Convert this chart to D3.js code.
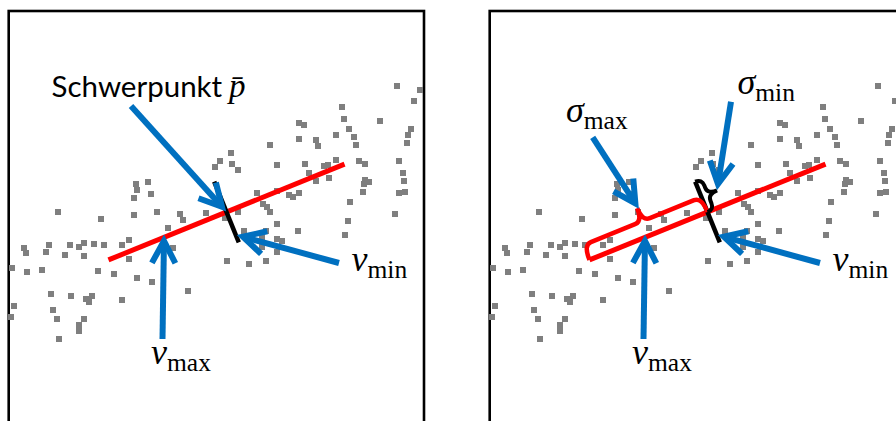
<!DOCTYPE html>
<html>
<head>
<meta charset="utf-8">
<script src="https://cdn.jsdelivr.net/npm/d3@7"></script>
<style>
  body { margin: 0; background: #fff; }
</style>
</head>
<body>
<svg id="chart" width="896" height="421"></svg>
<script>
// scatter points (pixel-like units of the left panel)
const pointX = [397, 420, 414, 342, 344, 380, 299, 304, 349, 411, 408, 336, 354, 299, 316, 407, 270, 318, 356, 231,
  220, 232, 215, 238, 277, 305, 324, 328, 336, 359, 365, 399, 403, 309, 329, 316, 365, 369, 364, 404,
  399, 405, 363, 350, 136, 148, 137, 151, 134, 257, 277, 289, 293, 299, 263, 267, 58, 101, 134, 24,
  26, 49, 46, 70, 79, 84, 65, 84, 94, 104, 122, 129, 129, 12, 27, 42, 98, 114, 137, 152,
  51, 71, 86, 89, 92, 122, 14, 53, 11, 57, 84, 79, 79, 59, 188, 157, 180, 183, 168, 173,
  206, 225, 238, 270, 227, 249, 266, 244, 277, 266, 262, 277, 282, 262, 277, 298, 348, 345, 395];
const pointY = [86, 90, 101, 107, 119, 121, 123, 125, 129, 129, 135, 135, 137, 139, 140, 143, 145, 146, 145, 153,
  161, 164, 167, 170, 165, 164, 166, 165, 160, 161, 164, 161, 173, 173, 178, 181, 180, 182, 184, 181,
  193, 192, 192, 202, 184, 182, 190, 194, 198, 193, 191, 195, 197, 193, 204, 207, 212, 219, 215, 248,
  253, 245, 252, 245, 247, 243, 255, 256, 244, 245, 245, 240, 259, 268, 272, 270, 271, 274, 278, 282,
  294, 296, 299, 302, 296, 300, 306, 310, 317, 319, 319, 325, 331, 339, 291, 212, 214, 220, 228, 248,
  213, 218, 212, 212, 261, 264, 261, 231, 224, 231, 238, 239, 241, 247, 252, 231, 221, 235, 214];

// principal axes
const centroid = [226.5, 212];
const axisAngle = -22.1;          // degrees, direction of v_max
const halfLength = [127.4, 32.7]; // v_max, v_min

// annotation arrows [x1, y1, x2, y2]
const arrowCentroid = [131, 106, 224, 209];
const arrowVmax = [162.5, 339, 164, 238];
const arrowVmin = [339, 263, 240, 236];
const arrowSmax = [111.7, 137.3, 156, 206];
const arrowSmin = [250, 101.7, 236.5, 187];

const panelShift = [0, 481];

const svg = d3.select("#chart");
const blue = "#0070c0";
const rad = axisAngle * Math.PI / 180;
const u = [Math.cos(rad), Math.sin(rad)];
const v = [-u[1], u[0]];

function drawPanel(ox, right) {
  const x = d3.scaleLinear().domain([8, 424]).range([ox + 8, ox + 424]);
  const y = d3.scaleLinear().domain([11, 421]).range([11, 421]);
  const g = svg.append("g");

  g.append("rect")
    .attr("x", x(8.7)).attr("y", y(11))
    .attr("width", x(424) - x(8.7)).attr("height", 440)
    .attr("fill", "none").attr("stroke", "#000").attr("stroke-width", 2.6);

  g.selectAll(".pt")
    .data(d3.range(pointX.length))
    .enter().append("rect")
    .attr("x", i => x(pointX[i]) - 3)
    .attr("y", i => y(pointY[i]) - 3)
    .attr("width", 6).attr("height", 6)
    .attr("fill", "#7f7f7f");

  // along-axis point helper
  const at = (a, n, t, d) => [x(centroid[0] + t * a[0] + d * n[0]), y(centroid[1] + t * a[1] + d * n[1])];

  const p1 = at(u, v, -halfLength[0], 0), p2 = at(u, v, halfLength[0], 0);
  g.append("line")
    .attr("x1", p1[0]).attr("y1", p1[1]).attr("x2", p2[0]).attr("y2", p2[1])
    .attr("stroke", "#ff0000").attr("stroke-width", 5);

  const q1 = at(u, v, 0, -halfLength[1]), q2 = at(u, v, 0, halfLength[1]);
  g.append("line")
    .attr("x1", q1[0]).attr("y1", q1[1]).attr("x2", q2[0]).attr("y2", q2[1])
    .attr("stroke", "#000").attr("stroke-width", 4.5);

  if (right) {
    const nv = [-v[0], -v[1]];
    brace(g, (t, d) => at(u, nv, t, d), -halfLength[0], 0, 16, 14, 8, "#ff0000", 4.5);
    const w = [-v[0], -v[1]];
    brace(g, (t, d) => at(w, u, t, d), halfLength[1], 0, 7, 10, 7, "#000", 4);
  }

  const arrows = right ? [arrowVmax, arrowVmin, arrowSmax, arrowSmin] : [arrowCentroid, arrowVmax, arrowVmin];
  arrows.forEach(a => arrow(g, x(a[0]), y(a[1]), x(a[2]), y(a[3])));

  label(g, x(151), y(363.5), "v", "max");
  label(g, x(351.5), y(271), "v", "min");
  if (right) {
    label(g, x(85), y(121.7), "σ", "max");
    label(g, x(256.5), y(94), "σ", "min");
  } else {
    g.append("text")
      .attr("x", x(51.5)).attr("y", y(96.7))
      .attr("font-family", "Lato, 'Open Sans', sans-serif")
      .attr("font-size", 29.5)
      .text("Schwerpunkt");
    g.append("text")
      .attr("x", x(229)).attr("y", y(96.7))
      .attr("font-family", "'Liberation Serif', serif")
      .attr("font-style", "italic")
      .attr("font-size", 33)
      .text("p\u0304");
  }
}

// brace from t0 to t1 with body offset h, tip height k, corner radius r
function brace(g, pt, t0, t1, h, k, r, color, width) {
  const s = Math.sign(t1 - t0), m = (t0 + t1) / 2;
  const P = (t, d) => pt(t, d).join(",");
  const path = "M" + P(t0, 0) +
    "Q" + P(t0, h) + " " + P(t0 + s * r, h) +
    "L" + P(m - s * r, h) +
    "Q" + P(m, h) + " " + P(m, h + k) +
    "Q" + P(m, h) + " " + P(m + s * r, h) +
    "L" + P(t1 - s * r, h) +
    "Q" + P(t1, h) + " " + P(t1, 0);
  g.append("path").attr("d", path)
    .attr("fill", "none").attr("stroke", color).attr("stroke-width", width);
}

function arrow(g, x1, y1, x2, y2) {
  const ang = Math.atan2(y1 - y2, x1 - x2);
  const spread = 28 * Math.PI / 180, len = 25;
  const tx = x2 + 3 * Math.cos(ang), ty = y2 + 3 * Math.sin(ang);
  g.append("line")
    .attr("x1", x1).attr("y1", y1).attr("x2", tx).attr("y2", ty)
    .attr("stroke", blue).attr("stroke-width", 6);
  const arm = d3.line();
  g.append("path")
    .attr("d", arm([
      [tx + len * Math.cos(ang + spread), ty + len * Math.sin(ang + spread)],
      [tx, ty],
      [tx + len * Math.cos(ang - spread), ty + len * Math.sin(ang - spread)]
    ]))
    .attr("fill", "none").attr("stroke", blue).attr("stroke-width", 6)
    .attr("stroke-linejoin", "miter");
}

function label(g, lx, ly, main, sub) {
  const t = g.append("text")
    .attr("x", lx).attr("y", ly)
    .attr("font-family", "'Liberation Serif', serif");
  t.append("tspan").attr("font-style", "italic").attr("font-size", 36).text(main);
  t.append("tspan").attr("font-size", 25.5).attr("dy", 7).text(sub);
}

panelShift.forEach((ox, i) => drawPanel(ox, i === 1));
</script>
</body>
</html>
